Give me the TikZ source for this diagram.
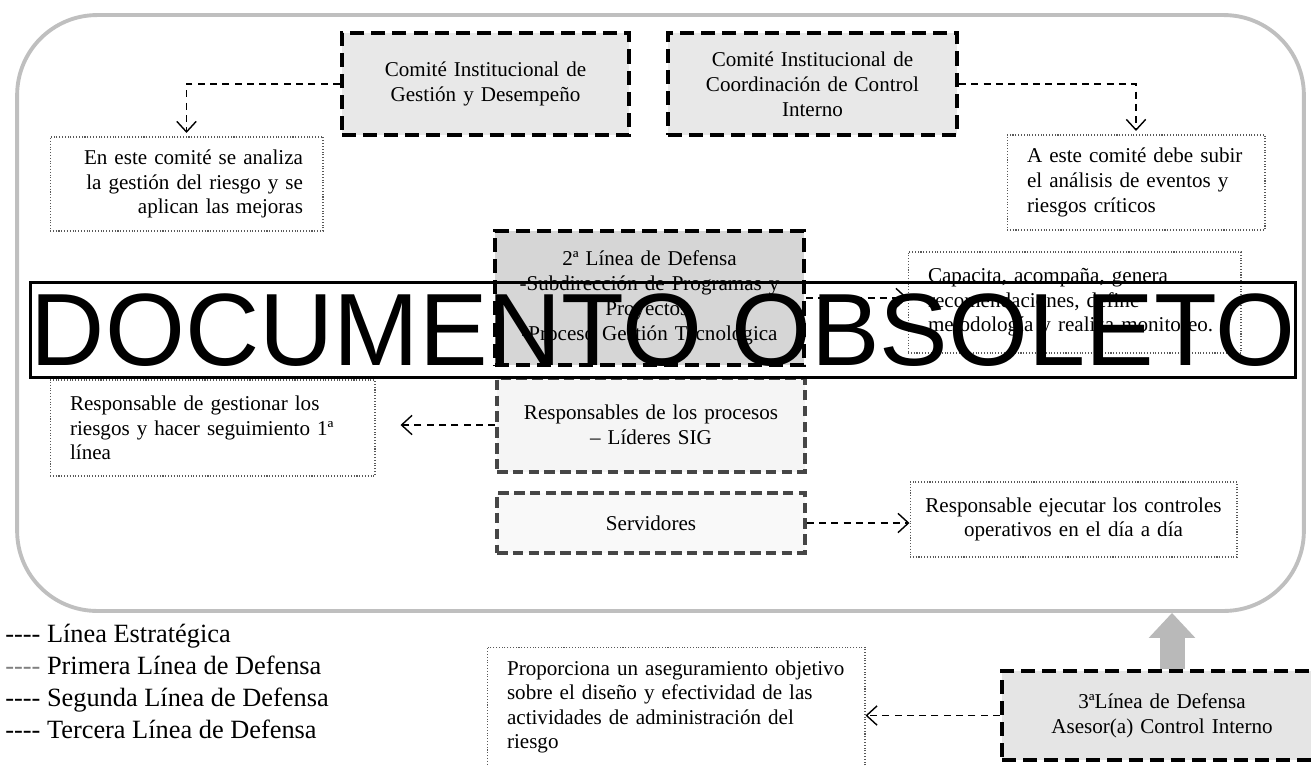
\documentclass[tikz,border=0pt]{standalone}
\usepackage{fontspec}
\setmainfont{Liberation Serif}
\newfontfamily\marcafont{Liberation Sans}
\usetikzlibrary{arrows.meta}
\newcommand{\guiones}{{-}{-}{-}{-}}

\begin{document}
\begin{tikzpicture}[x=0.02cm,y=-0.02cm,
comite/.style={draw,line width=2.4pt,dash pattern=on 8pt off 4pt,fill=gray!18,align=center,inner sep=0pt,font=\fontsize{12}{14.2}\selectfont},
proceso/.style={comite,draw=gray!55!black,line width=2pt,dash pattern=on 6pt off 3pt,fill=gray!8},
nota/.style={draw=gray!70!black,densely dotted,line width=0.6pt,inner xsep=0.4cm,inner ysep=0pt,font=\fontsize{12}{14}\selectfont},
enlace/.style={line width=0.8pt,dash pattern=on 4pt off 3pt,-{Straight Barb[length=6pt,width=11pt]}}]
\useasboundingbox(0,0)rectangle(1311,765);
\clip(0,0)rectangle(1311,765);
% marco general
\node[draw=gray!50,line width=2.2pt,rounded corners=1.6cm,minimum width=25.74cm,minimum height=11.92cm](marco)at(660.5,313){};
% linea estrategica
\node[comite,minimum width=5.74cm,minimum height=2.04cm,text width=5.3cm](cigd)at(485.5,84){Comité Institucional de\\Gestión y Desempeño};
\node[comite,minimum width=5.78cm,minimum height=2.04cm,text width=5.3cm](cicci)at(812.5,84){Comité Institucional de\\Coordinación de Control\\Interno};
\node[nota,minimum width=5.46cm,minimum height=1.88cm,text width=4.66cm,align=right](analiza)at(186.5,184){En este comité se analiza\\la gestión del riesgo y se\\aplican las mejoras};
\node[nota,minimum width=5.16cm,minimum height=1.9cm,text width=4.36cm,align=left](subir)at(1136,182.5){A este comité debe subir\\el análisis de eventos y\\riesgos críticos};
\draw[enlace,shorten >=2pt](cigd.west)-|(analiza.north);
\draw[enlace,shorten >=2pt](cicci.east)-|(subir.north);
% segunda linea
\node[comite,fill=gray!32,minimum width=6.18cm,minimum height=2.68cm,text width=5.8cm](segunda)at(649.5,298){2ª Línea de Defensa\\-Subdirección de Programas y\\Proyectos.\\-Proceso Gestión Tecnológica};
\node[nota,minimum width=6.66cm,minimum height=2.02cm,text width=5.86cm,align=left](capacita)at(1074.5,302.5){Capacita, acompaña, genera\\recomendaciones, define\\metodología y realiza monitoreo.};
\draw[enlace](segunda.east)--(segunda.east-|capacita.west);
% primera linea
\node[proceso,minimum width=6.16cm,minimum height=1.88cm,text width=5.8cm](lideres)at(651,425){Responsables de los procesos\\– Líderes SIG};
\node[nota,minimum width=6.5cm,minimum height=1.92cm,text width=5.7cm,align=left](gestionar)at(212.5,428){Responsable de gestionar los\\riesgos y hacer seguimiento 1ª\\línea};
\draw[enlace,shorten >=0.5cm](lideres.west)--(lideres.west-|gestionar.east);
\node[proceso,fill=gray!5,minimum width=6.16cm,minimum height=1.2cm,text width=5.8cm](servidores)at(651,523){Servidores};
\node[nota,inner xsep=0.15cm,minimum width=6.54cm,minimum height=1.5cm,text width=6.2cm,align=center](ejecutar)at(1073.5,519.5){Responsable ejecutar los controles\\operativos en el día a día};
\draw[enlace](servidores.east)--(servidores.east-|ejecutar.west);
% tercera linea
\node[comite,fill=gray!20,minimum width=6.4cm,minimum height=1.78cm,text width=6cm](tercera)at(1162,715.5){3ªLínea de Defensa\\Asesor(a) Control Interno};
\node[nota,minimum width=7.56cm,minimum height=2.4cm,text width=6.76cm,align=left](proporciona)at(676,707){Proporciona un aseguramiento objetivo\\sobre el diseño y efectividad de las\\actividades de administración del\\riesgo};
\draw[enlace](tercera.west)--(tercera.west-|proporciona.east);
\draw[gray!55,line width=0.5cm,-{Triangle[length=0.5cm,width=0.9cm]}]([xshift=0.2cm]tercera.north)--([xshift=0.2cm]tercera.north|-marco.south);
% convenciones
\node[anchor=west,align=left,inner sep=0pt,font=\fontsize{15}{18.2}\selectfont](leyenda)at(5,681){\guiones{} Línea Estratégica\\\textcolor{gray}{\guiones} Primera Línea de Defensa\\\guiones{} Segunda Línea de Defensa\\\guiones{} Tercera Línea de Defensa};
% sello
\node[draw,line width=1.6pt,minimum width=25.3cm,minimum height=1.9cm,inner sep=0pt,font=\marcafont\fontsize{58.5}{58.5}\selectfont](obsoleto)at(663,330){DOCUMENTO OBSOLETO};
\end{tikzpicture}
\end{document}
